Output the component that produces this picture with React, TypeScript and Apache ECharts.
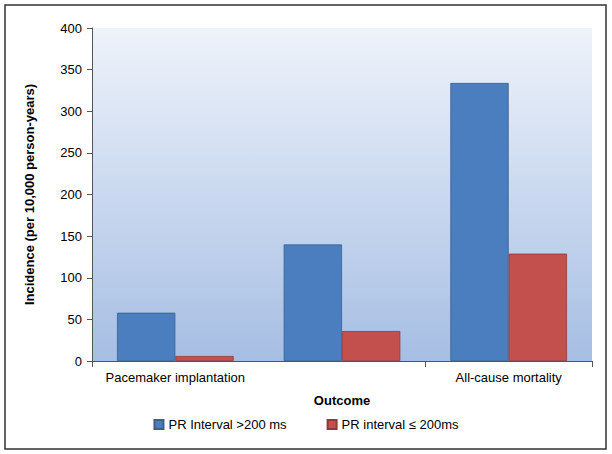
import React, { useEffect, useRef } from "react";
import * as echarts from "echarts";

const categories = ["Pacemaker implantation", "Atrial fibrillation", "All-cause mortality"];
const prLong = [58, 140, 334];
const prShort = [6, 36, 129];
const seriesNames = ["PR Interval >200 ms", "PR interval \u2264 200ms"];

export default function App() {
  const ref = useRef<HTMLDivElement>(null);
  useEffect(() => {
    document.body.style.margin = "0";
    const chart = echarts.init(ref.current!, null, { renderer: "svg" });
    const font = "Liberation Sans, Arial, sans-serif";
    chart.setOption({
      animation: false,
      textStyle: { fontFamily: font },
      graphic: [
        { type: "rect", shape: { x: 5, y: 5, width: 601, height: 444 }, style: { fill: "none", stroke: "#333", lineWidth: 1.5 }, z: 100 },
      ],
      grid: {
        left: 92, right: 20, top: 28, bottom: 93, show: true, borderWidth: 0,
        backgroundColor: new echarts.graphic.LinearGradient(0, 0, 0, 1, [
          { offset: 0, color: "#eef3fb" },
          { offset: 1, color: "#a6bee3" },
        ]),
      },
      legend: {
        bottom: 18, left: "center", itemWidth: 9, itemHeight: 9, itemGap: 40,
        icon: "rect", textStyle: { fontSize: 13, color: "#000", fontFamily: font },
        data: seriesNames,
      },
      xAxis: {
        type: "category", data: categories,
        name: "Outcome", nameLocation: "middle", nameGap: 33,
        nameTextStyle: { fontWeight: "bold", fontSize: 13, color: "#000" },
        axisLine: { lineStyle: { color: "#555" } },
        axisTick: { show: true, length: 6, lineStyle: { color: "#555" } },
        axisLabel: { fontSize: 13, color: "#000", margin: 10 },
      },
      yAxis: {
        type: "value", min: 0, max: 400, interval: 50,
        name: "Incidence (per 10,000 person-years)", nameLocation: "middle", nameGap: 56,
        nameTextStyle: { fontWeight: "bold", fontSize: 13, color: "#000" },
        axisLine: { show: true, lineStyle: { color: "#555" } },
        axisTick: { show: true, length: 5, lineStyle: { color: "#555" } },
        axisLabel: { fontSize: 13, color: "#000", margin: 10 },
        splitLine: { show: false },
      },
      series: [
        { name: seriesNames[0], type: "bar", data: prLong, barGap: "0%", barCategoryGap: "30%",
          itemStyle: { color: "#4a7ebf", borderColor: "#3a5f8f", borderWidth: 0.8 } },
        { name: seriesNames[1], type: "bar", data: prShort,
          itemStyle: { color: "#c4504d", borderColor: "#8f3a38", borderWidth: 0.8 } },
      ],
    });
    return () => chart.dispose();
  }, []);
  return <div ref={ref} style={{ width: 612, height: 454 }} />;
}
